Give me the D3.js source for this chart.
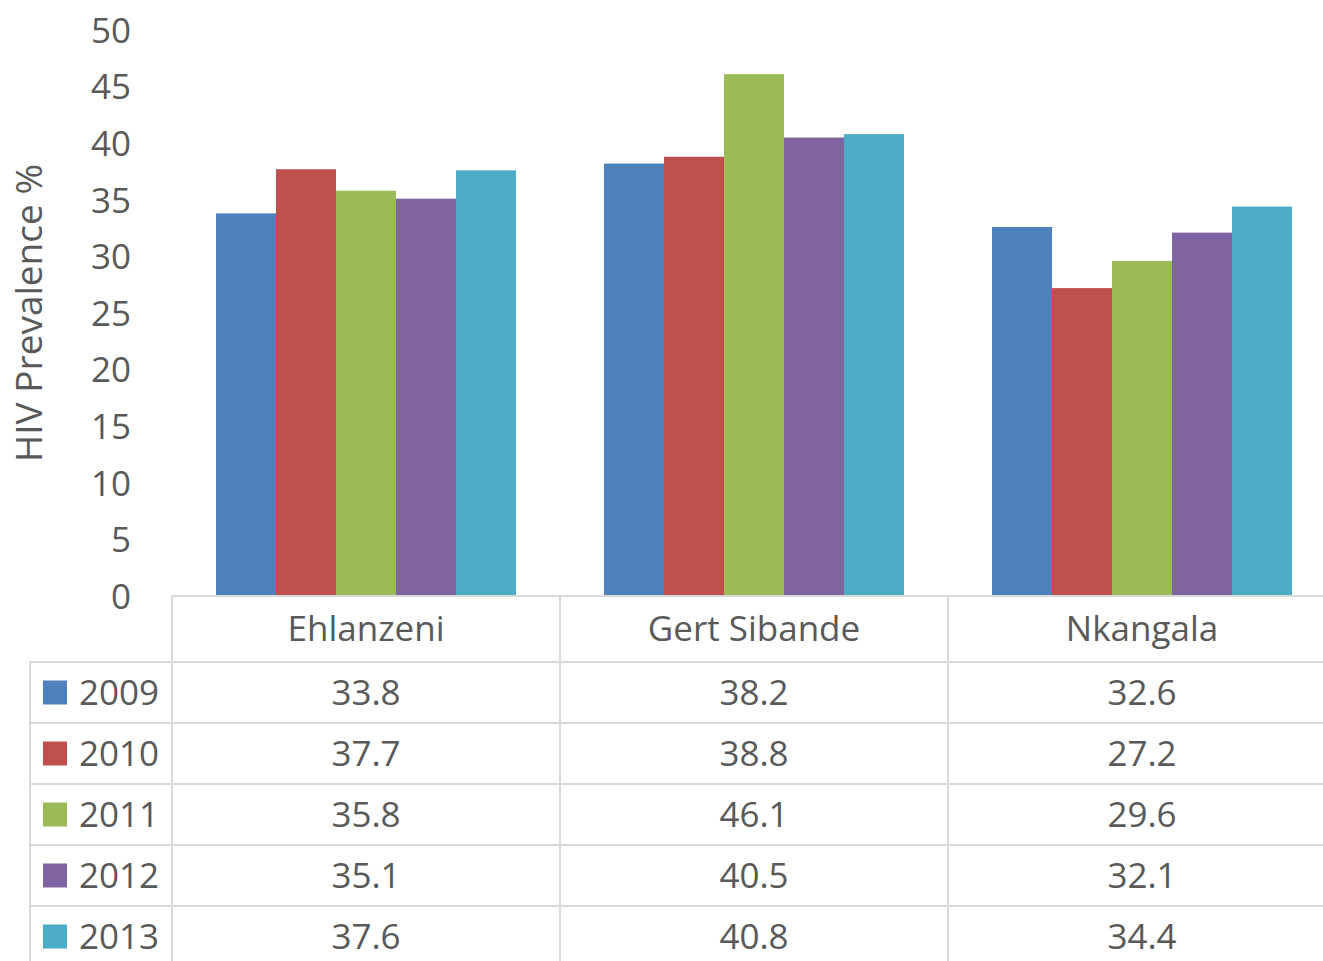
<!DOCTYPE html>
<html><head><meta charset="utf-8">
<script src="https://cdn.jsdelivr.net/npm/d3@7"></script>
<style>html,body{margin:0;padding:0;background:#fff;overflow:hidden}</style>
</head><body>
<svg id="c" width="1323" height="961"></svg>
<script>
const categories = ["Ehlanzeni", "Gert Sibande", "Nkangala"];
const years = ["2009", "2010", "2011", "2012", "2013"];
const values2009 = [33.8, 38.2, 32.6];
const values2010 = [37.7, 38.8, 27.2];
const values2011 = [35.8, 46.1, 29.6];
const values2012 = [35.1, 40.5, 32.1];
const values2013 = [37.6, 40.8, 34.4];
const yTicks = [0, 5, 10, 15, 20, 25, 30, 35, 40, 45, 50];
const colors = ["#4F81BD", "#C0504D", "#9BBB59", "#8064A2", "#4BACC6"];
const series = [values2009, values2010, values2011, values2012, values2013];

const svg = d3.select("#c");
const font = "'Open Sans', 'Noto Sans', sans-serif";
const textColor = "#595959";
const lineColor = "#d9d9d9";

const y = d3.scaleLinear().domain([0, 50]).range([596, 30]);
const x0 = d3.scaleBand().domain(categories).range([172, 1336]).paddingInner(0).paddingOuter(0);
const x1 = d3.scaleBand().domain(years).range([44, x0.bandwidth() - 44]).padding(0);

// bars
const g = svg.append("g");
categories.forEach((c, ci) => {
  years.forEach((yr, si) => {
    const v = series[si][ci];
    g.append("rect")
      .attr("x", x0(c) + x1(yr))
      .attr("y", y(v))
      .attr("width", x1.bandwidth())
      .attr("height", y(0) - y(v))
      .attr("fill", colors[si]);
  });
});

// y axis labels
const yAxis = d3.axisLeft(y).tickValues(yTicks).tickSize(0).tickPadding(0);
const ya = svg.append("g").attr("transform", "translate(131,0)").call(yAxis);
ya.select(".domain").remove();
ya.selectAll("text").attr("font-family", font).attr("font-size", 35).attr("fill", textColor).attr("dy", "0.35em");

svg.append("text")
  .attr("transform", "translate(42,313) rotate(-90)")
  .attr("text-anchor", "middle")
  .attr("font-family", font).attr("font-size", 37).attr("fill", textColor)
  .text("HIV Prevalence %");

// data table
const headerTop = 596, headerBottom = 662, rowH = 61;
const rowY = d3.scaleBand().domain(years).range([headerBottom, headerBottom + rowH * years.length]);

const lines = svg.append("g").attr("stroke", lineColor).attr("stroke-width", 2);
lines.append("line").attr("x1", 172).attr("x2", 1323).attr("y1", headerTop).attr("y2", headerTop);
[headerBottom].concat(years.map(yr => rowY(yr) + rowH)).forEach(yy => {
  lines.append("line").attr("x1", 30).attr("x2", 1323).attr("y1", yy).attr("y2", yy);
});
lines.append("line").attr("x1", 30).attr("x2", 30).attr("y1", headerBottom).attr("y2", 961);
categories.forEach(c => {
  lines.append("line").attr("x1", x0(c)).attr("x2", x0(c)).attr("y1", headerTop).attr("y2", 961);
});

// header texts
categories.forEach(c => {
  svg.append("text")
    .attr("x", x0(c) + x0.bandwidth() / 2)
    .attr("y", (headerTop + headerBottom) / 2)
    .attr("dy", "0.35em")
    .attr("text-anchor", "middle")
    .attr("font-family", font).attr("font-size", 35).attr("fill", textColor)
    .text(c);
});

// rows
years.forEach((yr, si) => {
  const cy = rowY(yr) + rowH / 2;
  svg.append("rect").attr("x", 43).attr("y", cy - 12).attr("width", 24).attr("height", 24).attr("fill", colors[si]);
  svg.append("text").attr("x", 79).attr("y", cy).attr("dy", "0.35em")
    .attr("font-family", font).attr("font-size", 35).attr("fill", textColor).text(yr);
  categories.forEach((c, ci) => {
    svg.append("text")
      .attr("x", x0(c) + x0.bandwidth() / 2)
      .attr("y", cy).attr("dy", "0.35em")
      .attr("text-anchor", "middle")
      .attr("font-family", font).attr("font-size", 35).attr("fill", textColor)
      .text(series[si][ci].toFixed(1));
  });
});
</script>
</body></html>
